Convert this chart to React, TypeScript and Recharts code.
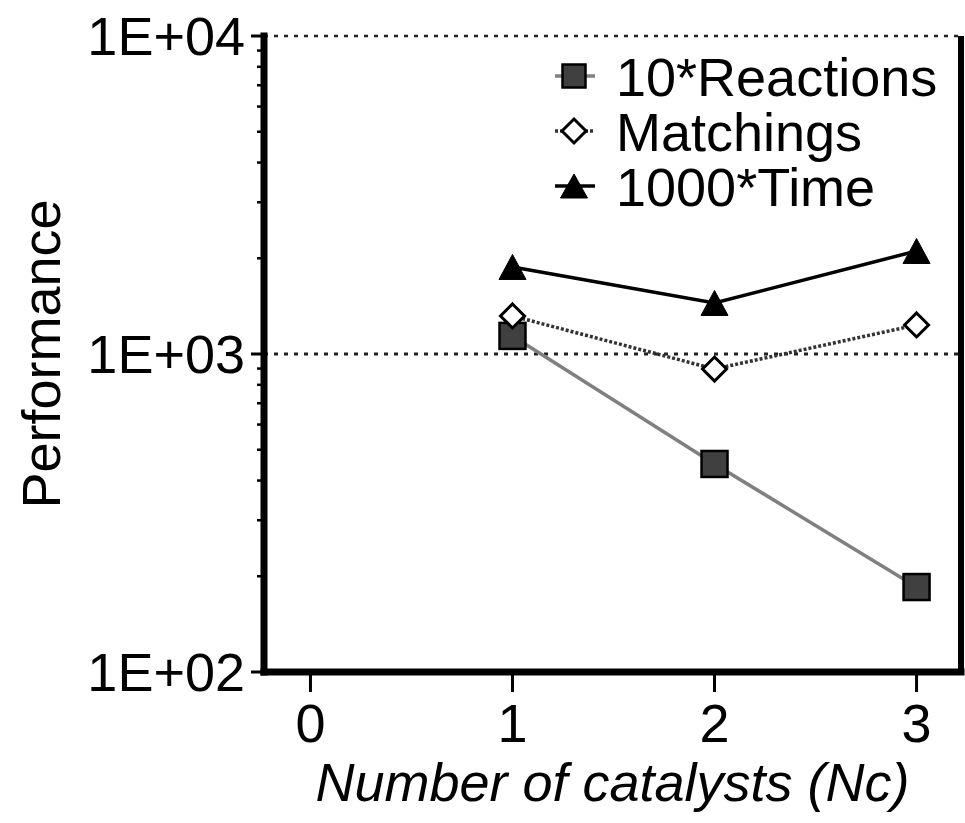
import React from 'react';
import { LineChart, Line, XAxis, YAxis, ReferenceLine } from 'recharts';

// values (log scale)
const catalysts = [1, 2, 3];
const reactions10 = [1140, 451, 185];
const matchings = [1317, 897, 1234];
const time1000 = [1878, 1447, 2108];

const xTicks = [0, 1, 2, 3];
const yMajorTicks = [100, 1000, 10000];
const yMajorLabels = ['1E+02', '1E+03', '1E+04'];
const yMinorTicks = [200, 300, 400, 500, 600, 700, 800, 900, 2000, 3000, 4000, 5000, 6000, 7000, 8000, 9000];

const seriesNames = ['10*Reactions', 'Matchings', '1000*Time'];

const FONT = "'Liberation Sans', Arial, Helvetica, sans-serif";
const FS = 54;
const W = 965;
const H = 823;

const data = catalysts.map((nc, i) => ({
    nc,
    reactions: reactions10[i],
    matchings: matchings[i],
    time: time1000[i],
}));

const Square = ({ cx, cy, s = 26 }: any) => (
    <rect x={cx - s / 2} y={cy - s / 2} width={s} height={s} fill="#404040" stroke="#000" strokeWidth={2.5} />
);

const Diamond = ({ cx, cy, r = 12 }: any) => (
    <path d={`M${cx},${cy - r}L${cx + r},${cy}L${cx},${cy + r}L${cx - r},${cy}Z`} fill="#fff" stroke="#000" strokeWidth={3} />
);

const Triangle = ({ cx, cy, w = 27, h = 25 }: any) => (
    <path d={`M${cx},${cy - h / 2}L${cx + w / 2},${cy + h / 2}L${cx - w / 2},${cy + h / 2}Z`} fill="#000" stroke="#000" strokeWidth={1} />
);

const YTick = (props: any) => {
    const { x, y, payload } = props;
    const idx = yMajorTicks.indexOf(payload.value);
    if (idx < 0) {
        return <line x1={x - 7} x2={x} y1={y} y2={y} stroke="#000" strokeWidth={2.5} />;
    }
    return (
        <g>
            <line x1={x - 13} x2={x} y1={y} y2={y} stroke="#000" strokeWidth={3} />
            <text x={x - 19} y={y} dy="0.36em" textAnchor="end" fontSize={FS} fontFamily={FONT} fill="#000">
                {yMajorLabels[idx]}
            </text>
        </g>
    );
};

const XTick = (props: any) => {
    const { x, y, payload } = props;
    return (
        <g>
            <line x1={x} x2={x} y1={y} y2={y + 20} stroke="#000" strokeWidth={3} />
            <text x={x} y={y + 70} textAnchor="middle" fontSize={FS} fontFamily={FONT} fill="#000">
                {payload.value}
            </text>
        </g>
    );
};

const legendMarkers = [
    { stroke: '#808080', dash: undefined, marker: <Square cx={24} cy={26} s={23} /> },
    { stroke: '#333', dash: '3 2', marker: <Diamond cx={24} cy={26} r={12} /> },
    { stroke: '#000', dash: undefined, marker: <Triangle cx={24} cy={26} w={27} h={24} /> },
];

export default function App() {
    return (
        <div style={{ position: 'absolute', left: 0, top: 0, width: W, height: H, background: '#fff' }}>
            <LineChart width={W} height={H} data={data} margin={{ top: 36, right: 4, left: 0, bottom: 0 }}>
                <XAxis
                    dataKey="nc"
                    type="number"
                    domain={[-0.23, 3.22]}
                    ticks={xTicks}
                    allowDataOverflow
                    height={151}
                    tickSize={0}
                    tickMargin={0}
                    tickLine={false}
                    axisLine={{ stroke: '#000', strokeWidth: 7, strokeLinecap: 'square' }}
                    tick={<XTick />}
                    label={(p: any) => {
                        const vb = p.viewBox;
                        return (
                            <text x={vb.x + vb.width / 2} y={vb.y + 129} textAnchor="middle" fontSize={FS} fontStyle="italic" fontFamily={FONT} fill="#000">
                                Number of catalysts (Nc)
                            </text>
                        );
                    }}
                />
                <YAxis
                    scale="log"
                    domain={[100, 10000]}
                    ticks={[...yMajorTicks, ...yMinorTicks]}
                    allowDataOverflow
                    width={264}
                    tickSize={0}
                    tickMargin={0}
                    tickLine={false}
                    interval={0}
                    axisLine={{ stroke: '#000', strokeWidth: 7, strokeLinecap: 'square' }}
                    tick={<YTick />}
                    label={(p: any) => {
                        const vb = p.viewBox;
                        const cy = vb.y + vb.height / 2;
                        return (
                            <text x={60} y={cy} transform={`rotate(-90 60 ${cy})`} textAnchor="middle" fontSize={FS} fontFamily={FONT} fill="#000">
                                Performance
                            </text>
                        );
                    }}
                />
                <ReferenceLine y={10000} stroke="#222" strokeWidth={2.5} strokeDasharray="4 6" />
                <ReferenceLine y={1000} stroke="#222" strokeWidth={3} strokeDasharray="4 6" />
                <ReferenceLine x={3.22} stroke="#000" strokeWidth={6} />
                <Line
                    dataKey="reactions"
                    name={seriesNames[0]}
                    stroke="#808080"
                    strokeWidth={3.5}
                    isAnimationActive={false}
                    dot={(p: any) => <Square key={`sq-${p.index}`} cx={p.cx} cy={p.cy} />}
                />
                <Line
                    dataKey="matchings"
                    name={seriesNames[1]}
                    stroke="#333"
                    strokeWidth={3.5}
                    strokeDasharray="3 2"
                    isAnimationActive={false}
                    dot={(p: any) => <Diamond key={`di-${p.index}`} cx={p.cx} cy={p.cy} />}
                />
                <Line
                    dataKey="time"
                    name={seriesNames[2]}
                    stroke="#000"
                    strokeWidth={3.5}
                    isAnimationActive={false}
                    dot={(p: any) => <Triangle key={`tr-${p.index}`} cx={p.cx} cy={p.cy} />}
                />
            </LineChart>
            <div style={{ position: 'absolute', left: 550, top: 50, fontFamily: FONT }}>
                {seriesNames.map((name, i) => (
                    <div key={name} style={{ display: 'flex', alignItems: 'center', height: 55 }}>
                        <svg width={50} height={55} style={{ display: 'block' }}>
                            <line x1={5} x2={45} y1={26} y2={26} stroke={legendMarkers[i].stroke} strokeWidth={3.5} strokeDasharray={legendMarkers[i].dash} />
                            {legendMarkers[i].marker}
                        </svg>
                        <span style={{ marginLeft: 16, fontSize: FS, lineHeight: '55px', color: '#000', whiteSpace: 'nowrap' }}>{name}</span>
                    </div>
                ))}
            </div>
        </div>
    );
}
